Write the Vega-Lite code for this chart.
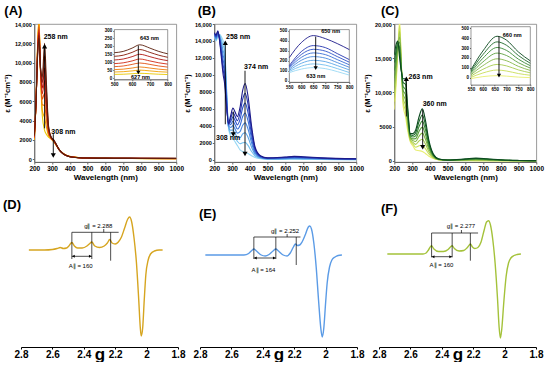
{
"$schema":"https://vega.github.io/schema/vega-lite/v6.json",
"padding":{"left":3,"right":2,"top":4,"bottom":0},
"config":{"font":"Liberation Sans","axis":{"grid":false,"labelOverlap":false,"labelFlush":false,"tickCount":50,"labelFont":"Liberation Sans","titleFont":"Liberation Sans","labelColor":"#000","titleColor":"#000","domainColor":"#666","tickColor":"#666"},"title":{"font":"Liberation Sans","color":"#000"}},
"spacing":17,
"resolve":{"scale":{"color":"independent"}},
"vconcat":[
{"spacing":-19.7,"resolve":{"scale":{"color":"independent"}},"hconcat":[
{"width":1,"height":1,"view":{"stroke":null},"data":{"values":[{}]},"mark":{"type":"text","text":""},"encoding":{}},
{"spacing":-2,"resolve":{"scale":{"color":"independent"}},"hconcat":[
{"title":{"text":"(A)","anchor":"start","frame":"group","dx":-30,"offset":4,"fontSize":13,"fontWeight":"bold"},
"width":142,"height":138,"view":{"stroke":"#808080","strokeWidth":0.8},
"resolve":{"scale":{"x":"independent","y":"independent"},"axis":{"x":"independent","y":"independent"}},
"layer":[
{"layer":[
{"data":{"name":"A"},"transform":[{"fold":["d7","d6","d5","d4","d3","d2","d1","d0"],"as":["s","v"]}],
"mark":{"type":"line","strokeWidth":1.1,"interpolate":"monotone","clip":true},
"encoding":{"x":{"field":"w","type":"quantitative","scale":{"domain":[200,1000],"nice":false,"zero":false},"axis":{"values":[200,300,400,500,600,700,800,900,1000],"tickCount":50,"labelOverlap":false,"labelExpr":"format(datum.value, 'd')","title":"Wavelength (nm)","labelFontSize":6.5,"labelFontWeight":"bold","titleFontSize":8,"titleFontWeight":"bold","tickSize":2,"labelPadding":1,"titlePadding":2}},
"y":{"field":"v","type":"quantitative","scale":{"domain":[-280,14000],"nice":false,"zero":false},"axis":{"values":[0,2000,4000,6000,8000,10000,12000,14000],"tickCount":50,"labelOverlap":false,"title":"ε (M⁻¹cm⁻¹)","labelExpr":"datum.value >= 10000 ? format(datum.value, ',') : format(datum.value, 'd')","labelFontSize":5.5,"labelFontWeight":"bold","titleFontSize":7.5,"titleFontWeight":"bold","tickSize":2,"labelPadding":1,"titlePadding":3}},
"color":{"field":"s","type":"nominal","scale":{"domain":["d0","d1","d2","d3","d4","d5","d6","d7"],"range":["#5a1e0c","#861808","#b01510","#d02a14","#e25012","#ee7a0a","#f2a400","#e8c800"]},"legend":null}}},
{"data":{"name":"Aar"},"mark":{"type":"rule","strokeWidth":0.9,"color":"#000"},"encoding":{"x":{"field":"x","type":"quantitative"},"y":{"field":"y","type":"quantitative"},"y2":{"field":"y2"}}},
{"data":{"name":"Aar"},"mark":{"type":"point","filled":true,"color":"#000","size":26,"opacity":1},"encoding":{"x":{"field":"x","type":"quantitative"},"y":{"field":"y2","type":"quantitative"},"shape":{"field":"dir","type":"nominal","scale":{"domain":["up","down","left","right"],"range":["triangle-up","triangle-down","triangle-left","triangle-right"]},"legend":null}}},
{"data":{"name":"Atx"},"mark":{"type":"text","align":"left","baseline":"middle","fontSize":7,"fontWeight":"bold"},"encoding":{"x":{"field":"x","type":"quantitative"},"y":{"field":"y","type":"quantitative"},"text":{"field":"t"}}}
]},
{"layer":[
{"data":{"values":[{}]},"mark":{"type":"rect","fill":"white","stroke":"#555","strokeWidth":0.6},"encoding":{"x":{"datum":500,"type":"quantitative","scale":{"domain":[500,800],"range":[80,133.4],"nice":false,"zero":false},"axis":{"orient":"bottom","offset":-82.7,"values":[500,600,700,800],"tickCount":50,"labelOverlap":false,"title":null,"labelFontSize":4.5,"labelFontWeight":"bold","tickSize":1.5,"labelPadding":1}},"x2":{"datum":800},"y":{"datum":-10,"type":"quantitative","scale":{"domain":[-10,306],"range":[55.6,5.6],"nice":false,"zero":false},"axis":{"orient":"left","offset":-80,"values":[0,50,100,150,200,250,300],"tickCount":50,"labelOverlap":false,"title":null,"labelFontSize":4.5,"labelFontWeight":"bold","tickSize":1.5,"labelPadding":1}},"y2":{"datum":306}}},
{"data":{"name":"Ai"},"transform":[{"fold":["d7","d6","d5","d4","d3","d2","d1","d0"],"as":["s","v"]}],
"mark":{"type":"line","strokeWidth":0.9,"interpolate":"monotone","clip":true},
"encoding":{"x":{"field":"w","type":"quantitative","title":null},"y":{"field":"v","type":"quantitative","title":null},"color":{"field":"s","type":"nominal","legend":null}}},
{"data":{"name":"Aiar"},"mark":{"type":"rule","strokeWidth":0.9,"color":"#000"},"encoding":{"x":{"field":"x","type":"quantitative","title":null},"y":{"field":"y","type":"quantitative","title":null},"y2":{"field":"y2"}}},
{"data":{"name":"Aiar"},"mark":{"type":"point","filled":true,"color":"#000","size":18,"opacity":1},"encoding":{"x":{"field":"x","type":"quantitative","title":null},"y":{"field":"y2","type":"quantitative","title":null},"shape":{"field":"dir","type":"nominal","legend":null}}},
{"data":{"name":"Aitx"},"mark":{"type":"text","align":"left","baseline":"middle","fontSize":5.5,"fontWeight":"bold"},"encoding":{"x":{"field":"x","type":"quantitative","title":null},"y":{"field":"y","type":"quantitative","title":null},"text":{"field":"t"}}}
]}
]},
{"title":{"text":"(B)","anchor":"start","frame":"group","dx":-16.6,"offset":4,"fontSize":13,"fontWeight":"bold"},
"width":142,"height":138,"view":{"stroke":"#808080","strokeWidth":0.8},
"resolve":{"scale":{"x":"independent","y":"independent"},"axis":{"x":"independent","y":"independent"}},
"layer":[
{"layer":[
{"data":{"name":"B"},"transform":[{"fold":["d7","d6","d5","d4","d3","d2","d1","d0"],"as":["s","v"]}],
"mark":{"type":"line","strokeWidth":1.1,"interpolate":"monotone","clip":true},
"encoding":{"x":{"field":"w","type":"quantitative","scale":{"domain":[200,1000],"nice":false,"zero":false},"axis":{"values":[200,300,400,500,600,700,800,900,1000],"tickCount":50,"labelOverlap":false,"labelExpr":"format(datum.value, 'd')","title":"Wavelength (nm)","labelFontSize":6.5,"labelFontWeight":"bold","titleFontSize":8,"titleFontWeight":"bold","tickSize":2,"labelPadding":1,"titlePadding":2}},
"y":{"field":"v","type":"quantitative","scale":{"domain":[-240,16000],"nice":false,"zero":false},"axis":{"values":[0,2000,4000,6000,8000,10000,12000,14000,16000],"tickCount":50,"labelOverlap":false,"title":"ε (M⁻¹cm⁻¹)","labelExpr":"datum.value >= 10000 ? format(datum.value, ',') : format(datum.value, 'd')","labelFontSize":5.5,"labelFontWeight":"bold","titleFontSize":7.5,"titleFontWeight":"bold","tickSize":2,"labelPadding":1,"titlePadding":3}},
"color":{"field":"s","type":"nominal","scale":{"domain":["d0","d1","d2","d3","d4","d5","d6","d7"],"range":["#1c1a8a","#2536b0","#2f52c8","#3a6ed6","#4a8ade","#5ca6e6","#74c0ee","#98d8f4"]},"legend":null}}},
{"data":{"name":"Bar"},"mark":{"type":"rule","strokeWidth":0.9,"color":"#000"},"encoding":{"x":{"field":"x","type":"quantitative"},"y":{"field":"y","type":"quantitative"},"y2":{"field":"y2"}}},
{"data":{"name":"Bar"},"mark":{"type":"point","filled":true,"color":"#000","size":26,"opacity":1},"encoding":{"x":{"field":"x","type":"quantitative"},"y":{"field":"y2","type":"quantitative"},"shape":{"field":"dir","type":"nominal","scale":{"domain":["up","down","left","right"],"range":["triangle-up","triangle-down","triangle-left","triangle-right"]},"legend":null}}},
{"data":{"name":"Btx"},"mark":{"type":"text","align":"left","baseline":"middle","fontSize":7,"fontWeight":"bold"},"encoding":{"x":{"field":"x","type":"quantitative"},"y":{"field":"y","type":"quantitative"},"text":{"field":"t"}}}
]},
{"layer":[
{"data":{"values":[{}]},"mark":{"type":"rect","fill":"white","stroke":"#555","strokeWidth":0.6},"encoding":{"x":{"datum":550,"type":"quantitative","scale":{"domain":[550,800],"range":[75,135],"nice":false,"zero":false},"axis":{"orient":"bottom","offset":-80,"values":[550,600,650,700,750,800],"tickCount":50,"labelOverlap":false,"title":null,"labelFontSize":4.5,"labelFontWeight":"bold","tickSize":1.5,"labelPadding":1}},"x2":{"datum":800},"y":{"datum":-17,"type":"quantitative","scale":{"domain":[-17,510],"range":[58.3,5.6],"nice":false,"zero":false},"axis":{"orient":"left","offset":-75,"values":[0,100,200,300,400,500],"tickCount":50,"labelOverlap":false,"title":null,"labelFontSize":4.5,"labelFontWeight":"bold","tickSize":1.5,"labelPadding":1}},"y2":{"datum":510}}},
{"data":{"name":"Bi"},"transform":[{"fold":["d7","d6","d5","d4","d3","d2","d1","d0"],"as":["s","v"]}],
"mark":{"type":"line","strokeWidth":0.9,"interpolate":"monotone","clip":true},
"encoding":{"x":{"field":"w","type":"quantitative","title":null},"y":{"field":"v","type":"quantitative","title":null},"color":{"field":"s","type":"nominal","legend":null}}},
{"data":{"name":"Biar"},"mark":{"type":"rule","strokeWidth":0.9,"color":"#000"},"encoding":{"x":{"field":"x","type":"quantitative","title":null},"y":{"field":"y","type":"quantitative","title":null},"y2":{"field":"y2"}}},
{"data":{"name":"Biar"},"mark":{"type":"point","filled":true,"color":"#000","size":18,"opacity":1},"encoding":{"x":{"field":"x","type":"quantitative","title":null},"y":{"field":"y2","type":"quantitative","title":null},"shape":{"field":"dir","type":"nominal","legend":null}}},
{"data":{"name":"Bitx"},"mark":{"type":"text","align":"left","baseline":"middle","fontSize":5.5,"fontWeight":"bold"},"encoding":{"x":{"field":"x","type":"quantitative","title":null},"y":{"field":"y","type":"quantitative","title":null},"text":{"field":"t"}}}
]}
]},
{"title":{"text":"(C)","anchor":"start","frame":"group","dx":-13.3,"offset":4,"fontSize":13,"fontWeight":"bold"},
"width":142,"height":138,"view":{"stroke":"#808080","strokeWidth":0.8},
"resolve":{"scale":{"x":"independent","y":"independent"},"axis":{"x":"independent","y":"independent"}},
"layer":[
{"layer":[
{"data":{"name":"C"},"transform":[{"fold":["d7","d6","d5","d4","d3","d2","d1","d0"],"as":["s","v"]}],
"mark":{"type":"line","strokeWidth":1.1,"interpolate":"monotone","clip":true},
"encoding":{"x":{"field":"w","type":"quantitative","scale":{"domain":[200,1000],"nice":false,"zero":false},"axis":{"values":[200,300,400,500,600,700,800,900,1000],"tickCount":50,"labelOverlap":false,"labelExpr":"format(datum.value, 'd')","title":"Wavelength (nm)","labelFontSize":6.5,"labelFontWeight":"bold","titleFontSize":8,"titleFontWeight":"bold","tickSize":2,"labelPadding":1,"titlePadding":2}},
"y":{"field":"v","type":"quantitative","scale":{"domain":[-150,20000],"nice":false,"zero":false},"axis":{"values":[0,5000,10000,15000,20000],"tickCount":50,"labelOverlap":false,"title":"ε (M⁻¹cm⁻¹)","labelExpr":"datum.value >= 10000 ? format(datum.value, ',') : format(datum.value, 'd')","labelFontSize":5.5,"labelFontWeight":"bold","titleFontSize":7.5,"titleFontWeight":"bold","tickSize":2,"labelPadding":1,"titlePadding":3}},
"color":{"field":"s","type":"nominal","scale":{"domain":["d0","d1","d2","d3","d4","d5","d6","d7"],"range":["#0b4a1e","#1f6a2a","#3a8a35","#5ea040","#86b848","#a8cc50","#cade58","#e8ee70"]},"legend":null}}},
{"data":{"name":"Car"},"mark":{"type":"rule","strokeWidth":0.9,"color":"#000"},"encoding":{"x":{"field":"x","type":"quantitative"},"y":{"field":"y","type":"quantitative"},"y2":{"field":"y2"}}},
{"data":{"name":"Car"},"mark":{"type":"point","filled":true,"color":"#000","size":26,"opacity":1},"encoding":{"x":{"field":"x","type":"quantitative"},"y":{"field":"y2","type":"quantitative"},"shape":{"field":"dir","type":"nominal","scale":{"domain":["up","down","left","right"],"range":["triangle-up","triangle-down","triangle-left","triangle-right"]},"legend":null}}},
{"data":{"name":"Ctx"},"mark":{"type":"text","align":"left","baseline":"middle","fontSize":7,"fontWeight":"bold"},"encoding":{"x":{"field":"x","type":"quantitative"},"y":{"field":"y","type":"quantitative"},"text":{"field":"t"}}}
]},
{"layer":[
{"data":{"values":[{}]},"mark":{"type":"rect","fill":"white","stroke":"#555","strokeWidth":0.6},"encoding":{"x":{"datum":550,"type":"quantitative","scale":{"domain":[550,800],"range":[76.7,136],"nice":false,"zero":false},"axis":{"orient":"bottom","offset":-77.7,"values":[550,600,650,700,750,800],"tickCount":50,"labelOverlap":false,"title":null,"labelFontSize":4.5,"labelFontWeight":"bold","tickSize":1.5,"labelPadding":1}},"x2":{"datum":800},"y":{"datum":-75,"type":"quantitative","scale":{"domain":[-75,517],"range":[61,2.7],"nice":false,"zero":false},"axis":{"orient":"left","offset":-76.7,"values":[0,100,200,300,400,500],"tickCount":50,"labelOverlap":false,"title":null,"labelFontSize":4.5,"labelFontWeight":"bold","tickSize":1.5,"labelPadding":1}},"y2":{"datum":517}}},
{"data":{"name":"Ci"},"transform":[{"fold":["d7","d6","d5","d4","d3","d2","d1","d0"],"as":["s","v"]}],
"mark":{"type":"line","strokeWidth":0.9,"interpolate":"monotone","clip":true},
"encoding":{"x":{"field":"w","type":"quantitative","title":null},"y":{"field":"v","type":"quantitative","title":null},"color":{"field":"s","type":"nominal","legend":null}}},
{"data":{"name":"Ciar"},"mark":{"type":"rule","strokeWidth":0.9,"color":"#000"},"encoding":{"x":{"field":"x","type":"quantitative","title":null},"y":{"field":"y","type":"quantitative","title":null},"y2":{"field":"y2"}}},
{"data":{"name":"Ciar"},"mark":{"type":"point","filled":true,"color":"#000","size":18,"opacity":1},"encoding":{"x":{"field":"x","type":"quantitative","title":null},"y":{"field":"y2","type":"quantitative","title":null},"shape":{"field":"dir","type":"nominal","legend":null}}},
{"data":{"name":"Citx"},"mark":{"type":"text","align":"left","baseline":"middle","fontSize":5.5,"fontWeight":"bold"},"encoding":{"x":{"field":"x","type":"quantitative","title":null},"y":{"field":"y","type":"quantitative","title":null},"text":{"field":"t"}}}
]}
]}
]}
]},
{"spacing":8,"hconcat":[
{"title":{"text":"(D)","anchor":"start","frame":"group","dx":-18,"offset":2,"fontSize":13,"fontWeight":"bold"},
"width":157,"height":122,"view":{"stroke":null},
"layer":[
{"data":{"name":"D"},"mark":{"type":"line","color":"#d6a520","strokeWidth":1.4,"interpolate":"monotone"},
"encoding":{"x":{"field":"g","type":"quantitative","scale":{"domain":[1.8,2.8],"reverse":true,"nice":false,"zero":false},"axis":{"values":[2.8,2.6,2.4,2.2,2,1.8],"tickCount":50,"labelOverlap":false,"labelExpr":"'' + datum.value","title":"g","labelFontSize":10,"labelFontWeight":"bold","titleFontSize":17,"titleFontWeight":"bold","domainColor":"#000","tickColor":"#000","tickSize":2,"labelPadding":0,"titlePadding":-13}},
"y":{"field":"v","type":"quantitative","scale":{"domain":[-97,25],"nice":false,"zero":false},"axis":null}}},
{"data":{"name":"Dr"},"mark":{"type":"rule","color":"#000","strokeWidth":0.7},"encoding":{"x":{"field":"g","type":"quantitative"},"x2":{"field":"g2"},"y":{"field":"v","type":"quantitative"},"y2":{"field":"v2"}}},
{"data":{"name":"Dh"},"mark":{"type":"point","filled":true,"color":"#000","size":9,"opacity":1},"encoding":{"x":{"field":"g","type":"quantitative"},"y":{"field":"v","type":"quantitative"},"shape":{"field":"dir","type":"nominal","scale":{"domain":["up","down","left","right"],"range":["triangle-up","triangle-down","triangle-left","triangle-right"]},"legend":null}}},
{"data":{"name":"Dt"},"mark":{"type":"text","fontSize":6,"baseline":"middle","align":"center"},"encoding":{"x":{"field":"g","type":"quantitative"},"y":{"field":"v","type":"quantitative"},"text":{"field":"t"}}}
]},
{"title":{"text":"(E)","anchor":"start","frame":"group","dx":-1,"offset":2,"fontSize":13,"fontWeight":"bold"},
"width":157,"height":122,"view":{"stroke":null},
"layer":[
{"data":{"name":"E"},"mark":{"type":"line","color":"#5b9be6","strokeWidth":1.4,"interpolate":"monotone"},
"encoding":{"x":{"field":"g","type":"quantitative","scale":{"domain":[1.8,2.8],"reverse":true,"nice":false,"zero":false},"axis":{"values":[2.8,2.6,2.4,2.2,2,1.8],"tickCount":50,"labelOverlap":false,"labelExpr":"'' + datum.value","title":"g","labelFontSize":10,"labelFontWeight":"bold","titleFontSize":17,"titleFontWeight":"bold","domainColor":"#000","tickColor":"#000","tickSize":2,"labelPadding":0,"titlePadding":-13}},
"y":{"field":"v","type":"quantitative","scale":{"domain":[-92,30],"nice":false,"zero":false},"axis":null}}},
{"data":{"name":"Er"},"mark":{"type":"rule","color":"#000","strokeWidth":0.7},"encoding":{"x":{"field":"g","type":"quantitative"},"x2":{"field":"g2"},"y":{"field":"v","type":"quantitative"},"y2":{"field":"v2"}}},
{"data":{"name":"Eh"},"mark":{"type":"point","filled":true,"color":"#000","size":9,"opacity":1},"encoding":{"x":{"field":"g","type":"quantitative"},"y":{"field":"v","type":"quantitative"},"shape":{"field":"dir","type":"nominal","scale":{"domain":["up","down","left","right"],"range":["triangle-up","triangle-down","triangle-left","triangle-right"]},"legend":null}}},
{"data":{"name":"Et"},"mark":{"type":"text","fontSize":6,"baseline":"middle","align":"center"},"encoding":{"x":{"field":"g","type":"quantitative"},"y":{"field":"v","type":"quantitative"},"text":{"field":"t"}}}
]},
{"title":{"text":"(F)","anchor":"start","frame":"group","dx":2,"offset":2,"fontSize":13,"fontWeight":"bold"},
"width":157,"height":122,"view":{"stroke":null},
"layer":[
{"data":{"name":"F"},"mark":{"type":"line","color":"#a4c23a","strokeWidth":1.4,"interpolate":"monotone"},
"encoding":{"x":{"field":"g","type":"quantitative","scale":{"domain":[1.8,2.8],"reverse":true,"nice":false,"zero":false},"axis":{"values":[2.8,2.6,2.4,2.2,2,1.8],"tickCount":50,"labelOverlap":false,"labelExpr":"'' + datum.value","title":"g","labelFontSize":10,"labelFontWeight":"bold","titleFontSize":17,"titleFontWeight":"bold","domainColor":"#000","tickColor":"#000","tickSize":2,"labelPadding":0,"titlePadding":-13}},
"y":{"field":"v","type":"quantitative","scale":{"domain":[-93,29],"nice":false,"zero":false},"axis":null}}},
{"data":{"name":"Fr"},"mark":{"type":"rule","color":"#000","strokeWidth":0.7},"encoding":{"x":{"field":"g","type":"quantitative"},"x2":{"field":"g2"},"y":{"field":"v","type":"quantitative"},"y2":{"field":"v2"}}},
{"data":{"name":"Fh"},"mark":{"type":"point","filled":true,"color":"#000","size":9,"opacity":1},"encoding":{"x":{"field":"g","type":"quantitative"},"y":{"field":"v","type":"quantitative"},"shape":{"field":"dir","type":"nominal","scale":{"domain":["up","down","left","right"],"range":["triangle-up","triangle-down","triangle-left","triangle-right"]},"legend":null}}},
{"data":{"name":"Ft"},"mark":{"type":"text","fontSize":6,"baseline":"middle","align":"center"},"encoding":{"x":{"field":"g","type":"quantitative"},"y":{"field":"v","type":"quantitative"},"text":{"field":"t"}}}
]}
]}
],
"datasets":{
"A":[
{"w":200,"d0":2500,"d1":2430,"d2":2360,"d3":2290,"d4":2210,"d5":2140,"d6":2070,"d7":2000},
{"w":210,"d0":6000,"d1":6000,"d2":6000,"d3":6000,"d4":6000,"d5":6000,"d6":6000,"d7":6000},
{"w":218,"d0":10500,"d1":10640,"d2":10790,"d3":10930,"d4":11070,"d5":11210,"d6":11360,"d7":11500},
{"w":226,"d0":12500,"d1":12800,"d2":13100,"d3":13400,"d4":13700,"d5":14000,"d6":14300,"d7":14600},
{"w":235,"d0":9500,"d1":9430,"d2":9360,"d3":9290,"d4":9210,"d5":9140,"d6":9070,"d7":9000},
{"w":245,"d0":8500,"d1":7930,"d2":7360,"d3":6790,"d4":6210,"d5":5640,"d6":5070,"d7":4500},
{"w":258,"d0":12000,"d1":10710,"d2":9430,"d3":8140,"d4":6860,"d5":5570,"d6":4290,"d7":3000},
{"w":268,"d0":8000,"d1":7230,"d2":6460,"d3":5690,"d4":4910,"d5":4140,"d6":3370,"d7":2600},
{"w":280,"d0":3500,"d1":3330,"d2":3160,"d3":2990,"d4":2810,"d5":2640,"d6":2470,"d7":2300},
{"w":295,"d0":2300,"d1":2270,"d2":2240,"d3":2210,"d4":2190,"d5":2160,"d6":2130,"d7":2100},
{"w":310,"d0":2000,"d1":1970,"d2":1940,"d3":1910,"d4":1890,"d5":1860,"d6":1830,"d7":1800},
{"w":325,"d0":1500,"d1":1490,"d2":1470,"d3":1460,"d4":1440,"d5":1430,"d6":1410,"d7":1400},
{"w":340,"d0":1000,"d1":1000,"d2":1000,"d3":1000,"d4":1000,"d5":1000,"d6":1000,"d7":1000},
{"w":360,"d0":600,"d1":610,"d2":615,"d3":620,"d4":630,"d5":635,"d6":640,"d7":650},
{"w":380,"d0":380,"d1":385,"d2":390,"d3":395,"d4":405,"d5":410,"d6":415,"d7":420},
{"w":400,"d0":260,"d1":265,"d2":270,"d3":275,"d4":285,"d5":290,"d6":295,"d7":300},
{"w":450,"d0":160,"d1":163,"d2":166,"d3":169,"d4":171,"d5":174,"d6":177,"d7":180},
{"w":500,"d0":130,"d1":129,"d2":127,"d3":126,"d4":124,"d5":123,"d6":121,"d7":120},
{"w":600,"d0":120,"d1":116,"d2":111,"d3":107,"d4":103,"d5":99,"d6":94,"d7":90},
{"w":700,"d0":120,"d1":114,"d2":109,"d3":103,"d4":97,"d5":91,"d6":86,"d7":80},
{"w":800,"d0":110,"d1":104,"d2":99,"d3":93,"d4":87,"d5":81,"d6":76,"d7":70},
{"w":1000,"d0":100,"d1":93,"d2":86,"d3":79,"d4":71,"d5":64,"d6":57,"d7":50}],
"Ai":[
{"w":500,"d0":160,"d1":137,"d2":114,"d3":91,"d4":72,"d5":53,"d6":38,"d7":23},
{"w":550,"d0":168,"d1":144,"d2":120,"d3":96,"d4":76,"d5":56,"d6":40,"d7":24},
{"w":600,"d0":189,"d1":162,"d2":135,"d3":108,"d4":86,"d5":63,"d6":45,"d7":27},
{"w":643,"d0":210,"d1":180,"d2":150,"d3":120,"d4":95,"d5":70,"d6":50,"d7":30},
{"w":700,"d0":189,"d1":162,"d2":135,"d3":108,"d4":86,"d5":63,"d6":45,"d7":27},
{"w":750,"d0":168,"d1":144,"d2":120,"d3":96,"d4":76,"d5":56,"d6":40,"d7":24},
{"w":800,"d0":153,"d1":131,"d2":110,"d3":88,"d4":69,"d5":51,"d6":37,"d7":22}],
"Aar":[{"x":258,"y":3200,"y2":11700,"dir":"up"},{"x":307,"y":2600,"y2":400,"dir":"down"}],
"Atx":[{"x":253,"y":12700,"t":"258 nm"},{"x":296,"y":2850,"t":"308 nm"}],
"Aiar":[{"x":635,"y":205,"y2":35,"dir":"down"}],
"Aitx":[{"x":644,"y":254,"t":"643 nm"},{"x":594,"y":8,"t":"627 nm"}],
"B":[
{"w":200,"d0":15000,"d1":14930,"d2":14860,"d3":14790,"d4":14710,"d5":14640,"d6":14570,"d7":14500},
{"w":210,"d0":14700,"d1":14600,"d2":14500,"d3":14400,"d4":14300,"d5":14200,"d6":14100,"d7":14000},
{"w":220,"d0":15200,"d1":15100,"d2":15000,"d3":14900,"d4":14800,"d5":14700,"d6":14600,"d7":14500},
{"w":230,"d0":14000,"d1":14110,"d2":14230,"d3":14340,"d4":14460,"d5":14570,"d6":14690,"d7":14800},
{"w":240,"d0":12000,"d1":12360,"d2":12710,"d3":13070,"d4":13430,"d5":13790,"d6":14140,"d7":14500},
{"w":250,"d0":10000,"d1":10570,"d2":11140,"d3":11710,"d4":12290,"d5":12860,"d6":13430,"d7":14000},
{"w":258,"d0":9000,"d1":9640,"d2":10290,"d3":10930,"d4":11570,"d5":12210,"d6":12860,"d7":13500},
{"w":268,"d0":6500,"d1":6860,"d2":7210,"d3":7570,"d4":7930,"d5":8290,"d6":8640,"d7":9000},
{"w":280,"d0":4300,"d1":4230,"d2":4160,"d3":4090,"d4":4010,"d5":3940,"d6":3870,"d7":3800},
{"w":292,"d0":5200,"d1":4860,"d2":4510,"d3":4170,"d4":3830,"d5":3490,"d6":3140,"d7":2800},
{"w":305,"d0":6100,"d1":5590,"d2":5070,"d3":4560,"d4":4040,"d5":3530,"d6":3010,"d7":2500},
{"w":318,"d0":5600,"d1":5100,"d2":4600,"d3":4100,"d4":3600,"d5":3100,"d6":2600,"d7":2100},
{"w":330,"d0":5100,"d1":4610,"d2":4130,"d3":3640,"d4":3160,"d5":2670,"d6":2190,"d7":1700},
{"w":345,"d0":6200,"d1":5490,"d2":4770,"d3":4060,"d4":3340,"d5":2630,"d6":1910,"d7":1200},
{"w":360,"d0":8200,"d1":7170,"d2":6140,"d3":5110,"d4":4090,"d5":3060,"d6":2030,"d7":1000},
{"w":374,"d0":9000,"d1":7840,"d2":6690,"d3":5530,"d4":4370,"d5":3210,"d6":2060,"d7":900},
{"w":390,"d0":7500,"d1":6540,"d2":5570,"d3":4610,"d4":3640,"d5":2680,"d6":1710,"d7":750},
{"w":410,"d0":4000,"d1":3500,"d2":3000,"d3":2500,"d4":2000,"d5":1500,"d6":1000,"d7":500},
{"w":430,"d0":1500,"d1":1330,"d2":1160,"d3":990,"d4":810,"d5":640,"d6":470,"d7":300},
{"w":460,"d0":500,"d1":450,"d2":400,"d3":350,"d4":300,"d5":250,"d6":200,"d7":150},
{"w":500,"d0":250,"d1":225,"d2":200,"d3":175,"d4":155,"d5":130,"d6":105,"d7":80},
{"w":600,"d0":350,"d1":310,"d2":270,"d3":230,"d4":190,"d5":150,"d6":110,"d7":70},
{"w":650,"d0":420,"d1":370,"d2":320,"d3":275,"d4":225,"d5":180,"d6":130,"d7":80},
{"w":700,"d0":380,"d1":335,"d2":290,"d3":245,"d4":205,"d5":160,"d6":115,"d7":70},
{"w":800,"d0":250,"d1":220,"d2":195,"d3":165,"d4":135,"d5":105,"d6":80,"d7":50},
{"w":1000,"d0":150,"d1":130,"d2":115,"d3":100,"d4":80,"d5":65,"d6":45,"d7":30}],
"Bi":[
{"w":550,"d0":230,"d1":150,"d2":138,"d3":127,"d4":115,"d5":103,"d6":92,"d7":80},
{"w":600,"d0":380,"d1":290,"d2":261,"d3":232,"d4":203,"d5":173,"d6":144,"d7":115},
{"w":650,"d0":450,"d1":350,"d2":313,"d3":277,"d4":240,"d5":203,"d6":167,"d7":130},
{"w":700,"d0":420,"d1":330,"d2":295,"d3":260,"d4":225,"d5":190,"d6":155,"d7":120},
{"w":750,"d0":370,"d1":270,"d2":240,"d3":210,"d4":180,"d5":150,"d6":120,"d7":90},
{"w":800,"d0":310,"d1":210,"d2":184,"d3":158,"d4":133,"d5":107,"d6":81,"d7":55}],
"Bar":[{"x":262,"y":4200,"y2":13800,"dir":"up"},{"x":307,"y":5700,"y2":3000,"dir":"down"},{"x":373,"y":10500,"y2":700,"dir":"down"}],
"Btx":[{"x":266,"y":14500,"t":"258 nm"},{"x":210,"y":2550,"t":"308 nm"},{"x":368,"y":10900,"t":"374 nm"}],
"Biar":[{"x":660,"y":440,"y2":125,"dir":"down"}],
"Bitx":[{"x":683,"y":495,"t":"650 nm"},{"x":621,"y":45,"t":"633 nm"}],
"C":[
{"w":200,"d0":15500,"d1":14360,"d2":13210,"d3":12070,"d4":10930,"d5":9790,"d6":8640,"d7":7500},
{"w":210,"d0":17000,"d1":16140,"d2":15290,"d3":14430,"d4":13570,"d5":12710,"d6":11860,"d7":11000},
{"w":220,"d0":17500,"d1":17290,"d2":17070,"d3":16860,"d4":16640,"d5":16430,"d6":16210,"d7":16000},
{"w":230,"d0":15000,"d1":15790,"d2":16570,"d3":17360,"d4":18140,"d5":18930,"d6":19710,"d7":20500},
{"w":240,"d0":13000,"d1":13140,"d2":13290,"d3":13430,"d4":13570,"d5":13710,"d6":13860,"d7":14000},
{"w":250,"d0":12000,"d1":11430,"d2":10860,"d3":10290,"d4":9710,"d5":9140,"d6":8570,"d7":8000},
{"w":263,"d0":12000,"d1":11210,"d2":10430,"d3":9640,"d4":8860,"d5":8070,"d6":7290,"d7":6500},
{"w":275,"d0":8000,"d1":7500,"d2":7000,"d3":6500,"d4":6000,"d5":5500,"d6":5000,"d7":4500},
{"w":290,"d0":4000,"d1":3830,"d2":3660,"d3":3490,"d4":3310,"d5":3140,"d6":2970,"d7":2800},
{"w":305,"d0":4000,"d1":3740,"d2":3490,"d3":3230,"d4":2970,"d5":2710,"d6":2460,"d7":2200},
{"w":320,"d0":4500,"d1":4090,"d2":3670,"d3":3260,"d4":2840,"d5":2430,"d6":2010,"d7":1600},
{"w":340,"d0":6500,"d1":5790,"d2":5070,"d3":4360,"d4":3640,"d5":2930,"d6":2210,"d7":1500},
{"w":358,"d0":7600,"d1":6710,"d2":5830,"d3":4940,"d4":4060,"d5":3170,"d6":2290,"d7":1400},
{"w":375,"d0":6000,"d1":5300,"d2":4600,"d3":3900,"d4":3200,"d5":2500,"d6":1800,"d7":1100},
{"w":395,"d0":3000,"d1":2670,"d2":2340,"d3":2010,"d4":1690,"d5":1360,"d6":1030,"d7":700},
{"w":420,"d0":1000,"d1":910,"d2":810,"d3":720,"d4":630,"d5":540,"d6":440,"d7":350},
{"w":450,"d0":300,"d1":280,"d2":260,"d3":240,"d4":210,"d5":190,"d6":170,"d7":150},
{"w":500,"d0":150,"d1":140,"d2":125,"d3":110,"d4":100,"d5":85,"d6":75,"d7":60},
{"w":600,"d0":300,"d1":260,"d2":225,"d3":190,"d4":150,"d5":115,"d6":80,"d7":40},
{"w":660,"d0":420,"d1":360,"d2":305,"d3":250,"d4":190,"d5":135,"d6":75,"d7":20},
{"w":720,"d0":330,"d1":285,"d2":240,"d3":195,"d4":155,"d5":110,"d6":65,"d7":20},
{"w":800,"d0":170,"d1":150,"d2":125,"d3":105,"d4":85,"d5":65,"d6":40,"d7":20},
{"w":900,"d0":80,"d1":70,"d2":60,"d3":50,"d4":40,"d5":30,"d6":20,"d7":10},
{"w":1000,"d0":50,"d1":45,"d2":40,"d3":35,"d4":25,"d5":20,"d6":15,"d7":10}],
"Ci":[
{"w":550,"d0":80,"d1":67,"d2":54,"d3":41,"d4":29,"d5":16,"d6":3,"d7":-10},
{"w":600,"d0":270,"d1":233,"d2":196,"d3":159,"d4":121,"d5":84,"d6":47,"d7":10},
{"w":660,"d0":420,"d1":363,"d2":306,"d3":249,"d4":191,"d5":134,"d6":77,"d7":20},
{"w":700,"d0":380,"d1":328,"d2":276,"d3":224,"d4":171,"d5":119,"d6":67,"d7":15},
{"w":750,"d0":260,"d1":224,"d2":187,"d3":151,"d4":114,"d5":78,"d6":41,"d7":5},
{"w":800,"d0":170,"d1":146,"d2":121,"d3":97,"d4":73,"d5":49,"d6":24,"d7":0}],
"Car":[{"x":268,"y":6500,"y2":12000,"dir":"up"},{"x":360,"y":7500,"y2":2000,"dir":"down"}],
"Ctx":[{"x":280,"y":12200,"t":"263 nm"},{"x":360,"y":8330,"t":"360 nm"}],
"Ciar":[{"x":668,"y":420,"y2":20,"dir":"down"}],
"Citx":[{"x":684,"y":433,"t":"660 nm"}],
"D":[
{"g":2.75,"v":0},{"g":2.65,"v":0},{"g":2.6,"v":0.5},{"g":2.57,"v":1.5},{"g":2.55,"v":2.5},{"g":2.53,"v":1.5},{"g":2.51,"v":2},{"g":2.495,"v":4},{"g":2.476,"v":7.5},{"g":2.46,"v":4},{"g":2.44,"v":2},{"g":2.41,"v":2},{"g":2.38,"v":4},{"g":2.365,"v":6},{"g":2.349,"v":8},{"g":2.33,"v":4},{"g":2.3,"v":2.5},{"g":2.27,"v":4},{"g":2.25,"v":7},{"g":2.235,"v":10.5},{"g":2.22,"v":7},{"g":2.2,"v":6},{"g":2.18,"v":8},{"g":2.16,"v":13},{"g":2.14,"v":22},{"g":2.12,"v":31},{"g":2.108,"v":33},{"g":2.095,"v":28},{"g":2.08,"v":12},{"g":2.065,"v":-12},{"g":2.05,"v":-50},{"g":2.04,"v":-78},{"g":2.034,"v":-86},{"g":2.025,"v":-78},{"g":2.015,"v":-50},{"g":2.005,"v":-25},{"g":1.99,"v":-10},{"g":1.975,"v":-4},{"g":1.95,"v":-1},{"g":1.92,"v":0},{"g":1.898,"v":0}],
"Dr":[{"g":2.476,"g2":2.178,"v":17.7,"v2":17.7},{"g":2.476,"g2":2.476,"v":17.7,"v2":-9},{"g":2.349,"g2":2.349,"v":17.7,"v2":-9},{"g":2.229,"g2":2.229,"v":17.7,"v2":-10.7},{"g":2.273,"g2":2.273,"v":17.7,"v2":21},{"g":2.476,"g2":2.349,"v":-6.3,"v2":-6.3}],
"Dh":[{"g":2.466,"v":-6.3,"dir":"left"},{"g":2.359,"v":-6.3,"dir":"right"}],
"Dt":[{"g":2.308,"v":24,"t":"g∥ = 2.288"},{"g":2.42,"v":-15.7,"t":"A∥ = 160"}],
"E":[
{"g":2.766,"v":0},{"g":2.6,"v":0},{"g":2.52,"v":0},{"g":2.49,"v":1.5},{"g":2.47,"v":4.5},{"g":2.457,"v":6},{"g":2.44,"v":4},{"g":2.41,"v":0},{"g":2.385,"v":-1},{"g":2.36,"v":0.5},{"g":2.335,"v":4},{"g":2.317,"v":6},{"g":2.3,"v":4},{"g":2.27,"v":0},{"g":2.245,"v":-1},{"g":2.225,"v":2},{"g":2.205,"v":8},{"g":2.192,"v":11},{"g":2.18,"v":9.5},{"g":2.165,"v":10},{"g":2.15,"v":13},{"g":2.13,"v":20},{"g":2.11,"v":28},{"g":2.1,"v":29},{"g":2.09,"v":26},{"g":2.075,"v":12},{"g":2.06,"v":-12},{"g":2.045,"v":-45},{"g":2.03,"v":-74},{"g":2.021,"v":-82},{"g":2.012,"v":-74},{"g":2.0,"v":-48},{"g":1.99,"v":-28},{"g":1.975,"v":-12},{"g":1.96,"v":-5},{"g":1.94,"v":-2},{"g":1.92,"v":-0.5},{"g":1.896,"v":0}],
"Er":[{"g":2.457,"g2":2.16,"v":18,"v2":18},{"g":2.457,"g2":2.457,"v":18,"v2":-4},{"g":2.317,"g2":2.317,"v":18,"v2":-4},{"g":2.187,"g2":2.187,"v":18,"v2":-10},{"g":2.245,"g2":2.245,"v":18,"v2":21},{"g":2.457,"g2":2.317,"v":-3,"v2":-3}],
"Eh":[{"g":2.447,"v":-3,"dir":"left"},{"g":2.327,"v":-3,"dir":"right"}],
"Et":[{"g":2.258,"v":24,"t":"g∥ = 2.252"},{"g":2.396,"v":-15,"t":"A∥ = 164"}],
"F":[
{"g":2.747,"v":0},{"g":2.6,"v":0},{"g":2.52,"v":0},{"g":2.5,"v":1},{"g":2.485,"v":4},{"g":2.466,"v":8.3},{"g":2.45,"v":5},{"g":2.42,"v":2.5},{"g":2.39,"v":2.5},{"g":2.36,"v":4.5},{"g":2.345,"v":7},{"g":2.334,"v":8.3},{"g":2.32,"v":5.5},{"g":2.29,"v":3},{"g":2.26,"v":3.5},{"g":2.24,"v":6},{"g":2.225,"v":9},{"g":2.218,"v":10},{"g":2.205,"v":7},{"g":2.19,"v":5.5},{"g":2.17,"v":6.5},{"g":2.15,"v":12},{"g":2.13,"v":24},{"g":2.115,"v":32},{"g":2.102,"v":33.3},{"g":2.09,"v":29},{"g":2.075,"v":14},{"g":2.06,"v":-10},{"g":2.045,"v":-45},{"g":2.035,"v":-73},{"g":2.027,"v":-84},{"g":2.018,"v":-75},{"g":2.005,"v":-48},{"g":1.99,"v":-22},{"g":1.975,"v":-9},{"g":1.96,"v":-4},{"g":1.94,"v":-1.5},{"g":1.92,"v":-0.5},{"g":1.896,"v":0}],
"Fr":[{"g":2.465,"g2":2.169,"v":21,"v2":21},{"g":2.465,"g2":2.465,"v":21,"v2":-3.3},{"g":2.334,"g2":2.334,"v":21,"v2":-3.3},{"g":2.218,"g2":2.218,"v":21,"v2":-6.7},{"g":2.275,"g2":2.275,"v":21,"v2":24},{"g":2.465,"g2":2.334,"v":-2.7,"v2":-2.7}],
"Fh":[{"g":2.455,"v":-2.7,"dir":"left"},{"g":2.344,"v":-2.7,"dir":"right"}],
"Ft":[{"g":2.278,"v":27.7,"t":"g∥ = 2.277"},{"g":2.402,"v":-11,"t":"A∥ = 160"}]
}
}
